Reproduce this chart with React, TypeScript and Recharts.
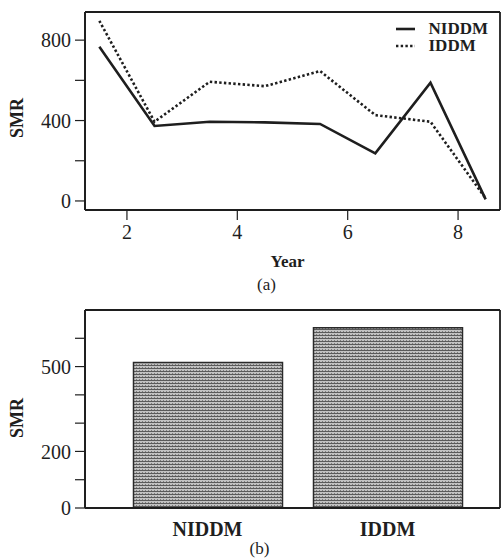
import React from 'react';
import { LineChart, Line, BarChart, Bar, XAxis, YAxis, Legend, Label, CartesianGrid } from 'recharts';

// panel (a): SMR by year of follow-up
const years = [1.5, 2.5, 3.5, 4.5, 5.5, 6.5, 7.5, 8.5];
const niddmSmr = [767, 373, 394, 391, 383, 237, 588, 8];
const iddmSmr = [896, 394, 593, 571, 646, 427, 394, 13];
const yearTicks = [2, 4, 6, 8];
const lineSmrTicks = [0, 200, 400, 600, 800];
const lineSmrLabels = [0, 400, 800];

// panel (b): overall SMR per group
const groups = ['NIDDM', 'IDDM'];
const groupSmr = [514, 637];
const barSmrTicks = [0, 100, 200, 300, 400, 500, 600];
const barSmrLabels = [0, 200, 500];

const FONT = '"Liberation Serif", "Times New Roman", serif';
const INK = '#1e1e1e';
const seriesOrder = ['niddm', 'iddm'];
const dashes: Record<string, string | undefined> = { niddm: undefined, iddm: '2.4 2.3' };

const lineData = years.map((year, i) => ({ year, niddm: niddmSmr[i], iddm: iddmSmr[i] }));
const barData = groups.map((group, i) => ({ group, smr: groupSmr[i] }));

const tickStyle = { fill: INK, fontSize: 20, fontFamily: FONT };
const axisLine = { stroke: INK, strokeWidth: 1.8 };
const tickLine = { stroke: INK, strokeWidth: 1.2 };

// frame round the plot area: grid lines only at its edges
const frameRows = ({ offset }: any) => [offset.top, offset.top + offset.height];
const frameCols = ({ offset }: any) => [offset.left, offset.left + offset.width];

const SideTitle = (props: any) => {
    const { viewBox, dy } = props;
    const cx = viewBox.x + 17;
    const cy = viewBox.y + viewBox.height / 2 + dy;
    return (
        <text x={cx} y={cy} transform={`rotate(-90, ${cx}, ${cy})`} textAnchor="middle" dominantBaseline="central"
            fontSize={18} fontWeight="bold" fill={INK} fontFamily={FONT}>SMR</text>
    );
};

const BottomTitle = (props: any) => {
    const { viewBox, title, titleDy, tag, tagDx, tagDy } = props;
    const cx = viewBox.x + viewBox.width / 2;
    return (
        <g fontFamily={FONT} fill={INK}>
            {title && <text x={cx - 5} y={viewBox.y + titleDy} textAnchor="middle" dominantBaseline="central" fontSize={17} fontWeight="bold">{title}</text>}
            <text x={cx + tagDx} y={viewBox.y + tagDy} textAnchor="middle" dominantBaseline="central" fontSize={17}>{tag}</text>
        </g>
    );
};

const renderLegend = (props: any) => {
    const items = [...(props.payload || [])].sort(
        (a: any, b: any) => seriesOrder.indexOf(a.dataKey) - seriesOrder.indexOf(b.dataKey));
    return (
        <div style={{ fontFamily: FONT, fontWeight: 'bold', fontSize: 17, color: INK }}>
            {items.map((entry: any) => (
                <div key={entry.value} style={{ display: 'flex', alignItems: 'center', height: 17.5 }}>
                    <svg width={19} height={6} style={{ marginRight: 14 }}>
                        <line x1={0} y1={3} x2={19} y2={3} stroke={INK} strokeWidth={2.6} strokeDasharray={dashes[entry.dataKey]} />
                    </svg>
                    <span>{entry.value}</span>
                </div>
            ))}
        </div>
    );
};

export default function App() {
    return (
        <div style={{ position: 'absolute', left: 0, top: 0, width: 502, height: 559, background: '#fff', overflow: 'hidden' }}>
            <div style={{ position: 'absolute', left: 0, top: 0 }}>
                <LineChart width={502} height={300} data={lineData} margin={{ top: 12, right: 2, bottom: 10, left: 0 }}>
                    <CartesianGrid stroke={INK} strokeWidth={1.8} fill="none"
                        horizontalCoordinatesGenerator={frameRows} verticalCoordinatesGenerator={frameCols} />
                    <XAxis dataKey="year" type="number" domain={[1.24, 8.76]} ticks={yearTicks} allowDataOverflow
                        height={80} tick={tickStyle} tickSize={10} tickMargin={5} axisLine={axisLine} tickLine={tickLine}>
                        <Label content={(p: any) => <BottomTitle {...p} title="Year" titleDy={51} tag="(a)" tagDx={-26} tagDy={74} />} />
                    </XAxis>
                    <YAxis type="number" domain={[-45, 940]} ticks={lineSmrTicks} allowDataOverflow width={85}
                        tickFormatter={(v: number) => (lineSmrLabels.includes(v) ? String(v) : '')}
                        tick={tickStyle} tickSize={10} tickMargin={4} axisLine={axisLine} tickLine={tickLine}>
                        <Label content={(p: any) => <SideTitle {...p} dy={7} />} />
                    </YAxis>
                    <Legend layout="horizontal" verticalAlign="middle" align="center" content={renderLegend}
                        wrapperStyle={{ top: 20, right: 14, left: 'auto', width: 'auto' }} />
                    <Line dataKey="niddm" name="NIDDM" stroke={INK} strokeWidth={2.6} dot={false} isAnimationActive={false} />
                    <Line dataKey="iddm" name="IDDM" stroke={INK} strokeWidth={2.6} strokeDasharray={dashes.iddm} dot={false} isAnimationActive={false} />
                </LineChart>
            </div>
            <div style={{ position: 'absolute', left: 0, top: 290 }}>
                <BarChart width={502} height={275} data={barData} margin={{ top: 20, right: 2, bottom: 6, left: 0 }}>
                    <defs>
                        <pattern id="stipple" width={3} height={3} patternUnits="userSpaceOnUse">
                            <rect width={3} height={3} fill="#c2c2c2" />
                            <rect x={0} y={0} width={3} height={1} fill="#5a5a5a" />
                            <rect x={1} y={2} width={1} height={1} fill="#7a7a7a" />
                        </pattern>
                    </defs>
                    <CartesianGrid stroke={INK} strokeWidth={1.8} fill="none"
                        horizontalCoordinatesGenerator={frameRows} verticalCoordinatesGenerator={frameCols} />
                    <XAxis dataKey="group" padding={{ left: 32.5, right: 22.5 }} height={51}
                        tick={{ ...tickStyle, fontWeight: 'bold' }} tickSize={8} tickMargin={6} tickLine={false} axisLine={axisLine}>
                        <Label content={(p: any) => <BottomTitle {...p} tag="(b)" tagDx={-33} tagDy={40} />} />
                    </XAxis>
                    <YAxis type="number" domain={[0, 700]} ticks={barSmrTicks} allowDataOverflow width={85}
                        tickFormatter={(v: number) => (barSmrLabels.includes(v) ? String(v) : '')}
                        tick={tickStyle} tickSize={10} tickMargin={4} axisLine={axisLine} tickLine={tickLine}>
                        <Label content={(p: any) => <SideTitle {...p} dy={9} />} />
                    </YAxis>
                    <Bar dataKey="smr" barSize={149} fill="url(#stipple)" stroke="#2a2a2a" strokeWidth={1.5} isAnimationActive={false} />
                </BarChart>
            </div>
        </div>
    );
}
